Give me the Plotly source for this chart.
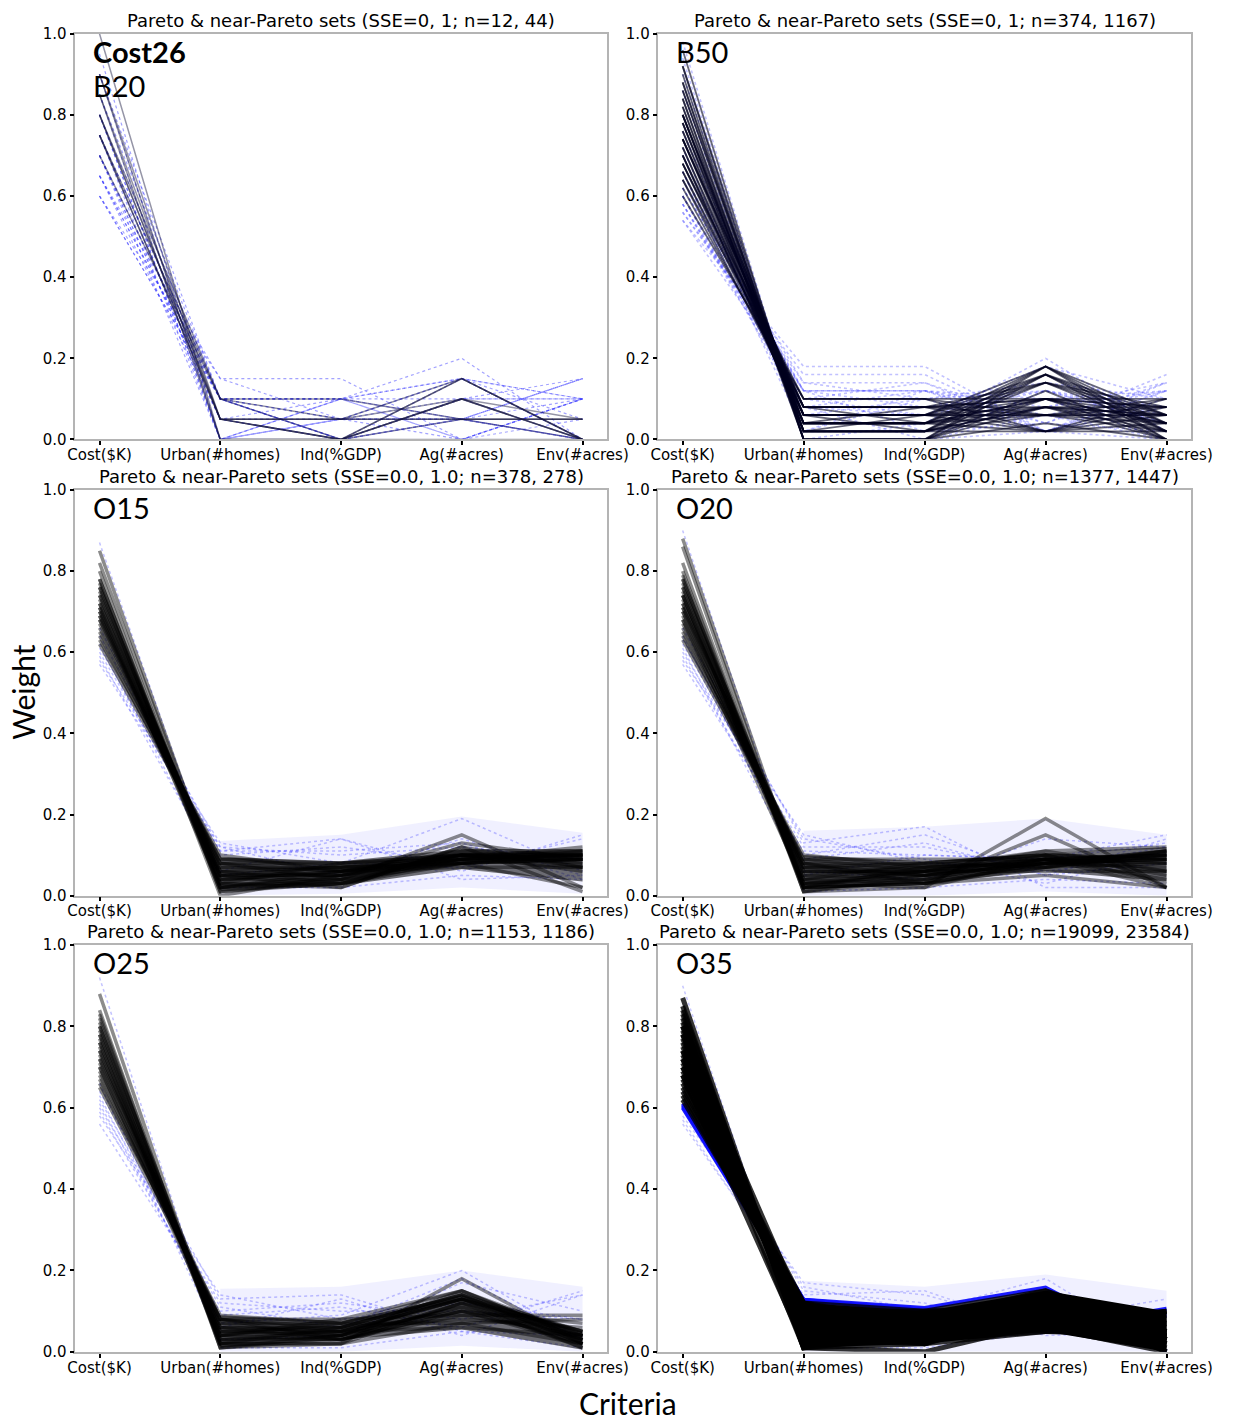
import plotly.graph_objects as go

# ---------------------------------------------------------------- data
criteria = ["Cost($K)", "Urban(#homes)", "Ind(%GDP)", "Ag(#acres)", "Env(#acres)"]

panel_titles = [
    "Pareto & near-Pareto sets (SSE=0, 1; n=12, 44)",
    "Pareto & near-Pareto sets (SSE=0, 1; n=374, 1167)",
    "Pareto & near-Pareto sets (SSE=0.0, 1.0; n=378, 278)",
    "Pareto & near-Pareto sets (SSE=0.0, 1.0; n=1377, 1447)",
    "Pareto & near-Pareto sets (SSE=0.0, 1.0; n=1153, 1186)",
    "Pareto & near-Pareto sets (SSE=0.0, 1.0; n=19099, 23584)",
]
panel_tags = ["B20", "B50", "O15", "O20", "O25", "O35"]
scenario_tag = "Cost26"

# weight vectors (Cost, Urban, Ind, Ag, Env)
b20_pareto = [
    [1.00, 0.00, 0.00, 0.00, 0.00],
    [0.90, 0.05, 0.00, 0.05, 0.00],
    [0.90, 0.00, 0.00, 0.10, 0.00],
    [0.85, 0.05, 0.00, 0.10, 0.00],
    [0.85, 0.00, 0.00, 0.15, 0.00],
    [0.80, 0.05, 0.05, 0.05, 0.05],
    [0.80, 0.05, 0.00, 0.15, 0.00],
    [0.75, 0.05, 0.05, 0.10, 0.05],
    [0.75, 0.10, 0.05, 0.05, 0.05],
    [0.80, 0.10, 0.00, 0.10, 0.00],
    [0.70, 0.10, 0.10, 0.05, 0.05],
    [0.75, 0.05, 0.05, 0.15, 0.00],
]
b20_near = [
    [0.60, 0.15, 0.15, 0.00, 0.10],
    [0.60, 0.10, 0.10, 0.05, 0.15],
    [0.65, 0.15, 0.05, 0.15, 0.00],
    [0.65, 0.10, 0.00, 0.10, 0.15],
    [0.65, 0.05, 0.10, 0.20, 0.00],
    [0.70, 0.10, 0.10, 0.10, 0.00],
    [0.70, 0.00, 0.10, 0.15, 0.05],
    [0.70, 0.05, 0.00, 0.15, 0.10],
    [0.70, 0.10, 0.00, 0.10, 0.10],
    [0.75, 0.10, 0.10, 0.00, 0.05],
    [0.75, 0.00, 0.05, 0.10, 0.10],
    [0.75, 0.10, 0.05, 0.00, 0.10],
    [0.80, 0.10, 0.00, 0.00, 0.10],
    [0.80, 0.00, 0.10, 0.00, 0.10],
    [0.80, 0.00, 0.05, 0.05, 0.10],
    [0.85, 0.10, 0.00, 0.05, 0.00],
    [0.85, 0.00, 0.10, 0.05, 0.00],
    [0.90, 0.00, 0.05, 0.05, 0.00],
    [0.90, 0.10, 0.00, 0.00, 0.00],
    [0.95, 0.00, 0.00, 0.05, 0.00],
    [0.65, 0.10, 0.10, 0.15, 0.00],
    [0.60, 0.10, 0.05, 0.15, 0.10],
    [0.70, 0.05, 0.05, 0.05, 0.15],
    [0.75, 0.05, 0.00, 0.05, 0.15],
]

b50_pareto = [
    [0.96, 0.00, 0.00, 0.04, 0.00], [0.92, 0.00, 0.00, 0.08, 0.00],
    [0.90, 0.00, 0.00, 0.10, 0.00], [0.88, 0.00, 0.00, 0.12, 0.00],
    [0.84, 0.00, 0.00, 0.16, 0.00], [0.82, 0.00, 0.00, 0.18, 0.00],
    [0.92, 0.02, 0.02, 0.02, 0.02], [0.88, 0.02, 0.02, 0.06, 0.02],
    [0.86, 0.02, 0.02, 0.08, 0.02], [0.84, 0.02, 0.02, 0.10, 0.02],
    [0.80, 0.02, 0.02, 0.14, 0.02], [0.78, 0.02, 0.02, 0.16, 0.02],
    [0.76, 0.02, 0.02, 0.18, 0.02],
    [0.86, 0.04, 0.04, 0.02, 0.04], [0.82, 0.04, 0.04, 0.06, 0.04],
    [0.80, 0.04, 0.04, 0.08, 0.04], [0.78, 0.04, 0.04, 0.10, 0.04],
    [0.74, 0.04, 0.04, 0.14, 0.04], [0.72, 0.04, 0.04, 0.16, 0.04],
    [0.70, 0.04, 0.04, 0.18, 0.04],
    [0.80, 0.06, 0.06, 0.02, 0.06], [0.76, 0.06, 0.06, 0.06, 0.06],
    [0.74, 0.06, 0.06, 0.08, 0.06], [0.72, 0.06, 0.06, 0.10, 0.06],
    [0.68, 0.06, 0.06, 0.14, 0.06], [0.66, 0.06, 0.06, 0.16, 0.06],
    [0.64, 0.06, 0.06, 0.18, 0.06],
    [0.74, 0.08, 0.08, 0.02, 0.08], [0.70, 0.08, 0.08, 0.06, 0.08],
    [0.68, 0.08, 0.08, 0.08, 0.08], [0.66, 0.08, 0.08, 0.10, 0.08],
    [0.62, 0.08, 0.08, 0.14, 0.08],
    [0.68, 0.10, 0.10, 0.02, 0.10], [0.64, 0.10, 0.10, 0.06, 0.10],
    [0.60, 0.10, 0.10, 0.10, 0.10],
    [0.80, 0.02, 0.06, 0.06, 0.06], [0.74, 0.08, 0.04, 0.10, 0.04],
    [0.78, 0.06, 0.02, 0.08, 0.06], [0.70, 0.04, 0.08, 0.10, 0.08],
]
b50_near = [
    [0.98, 0.00, 0.00, 0.02, 0.00], [0.94, 0.00, 0.00, 0.06, 0.00],
    [0.90, 0.02, 0.02, 0.04, 0.02], [0.62, 0.12, 0.12, 0.02, 0.12],
    [0.58, 0.12, 0.12, 0.06, 0.12], [0.54, 0.12, 0.12, 0.10, 0.12],
    [0.56, 0.14, 0.14, 0.02, 0.14], [0.56, 0.16, 0.16, 0.02, 0.10],
    [0.54, 0.18, 0.18, 0.02, 0.08], [0.70, 0.04, 0.04, 0.20, 0.02],
    [0.60, 0.06, 0.10, 0.14, 0.10], [0.64, 0.12, 0.02, 0.08, 0.14],
    [0.58, 0.10, 0.14, 0.04, 0.14], [0.62, 0.14, 0.10, 0.02, 0.12],
    [0.66, 0.02, 0.12, 0.08, 0.12], [0.60, 0.08, 0.12, 0.04, 0.16],
    [0.60, 0.12, 0.08, 0.12, 0.08], [0.66, 0.10, 0.06, 0.12, 0.06],
    [0.72, 0.02, 0.10, 0.12, 0.04], [0.58, 0.08, 0.06, 0.18, 0.10],
    [0.86, 0.00, 0.04, 0.10, 0.00], [0.76, 0.08, 0.00, 0.12, 0.04],
]

o15_pareto = [
    [0.80, 0.01, 0.03, 0.10, 0.06], [0.78, 0.02, 0.04, 0.09, 0.07],
    [0.77, 0.00, 0.05, 0.10, 0.08], [0.76, 0.03, 0.03, 0.11, 0.07],
    [0.75, 0.04, 0.04, 0.08, 0.09], [0.74, 0.02, 0.06, 0.09, 0.09],
    [0.73, 0.05, 0.05, 0.08, 0.09], [0.72, 0.04, 0.06, 0.10, 0.08],
    [0.72, 0.06, 0.03, 0.09, 0.10], [0.71, 0.05, 0.07, 0.08, 0.09],
    [0.70, 0.06, 0.05, 0.10, 0.09], [0.70, 0.03, 0.08, 0.09, 0.10],
    [0.69, 0.07, 0.06, 0.08, 0.10], [0.68, 0.06, 0.07, 0.09, 0.10],
    [0.68, 0.08, 0.04, 0.10, 0.10], [0.67, 0.07, 0.07, 0.10, 0.09],
    [0.66, 0.08, 0.06, 0.09, 0.11], [0.65, 0.09, 0.07, 0.08, 0.11],
    [0.64, 0.08, 0.08, 0.10, 0.10], [0.63, 0.10, 0.06, 0.11, 0.10],
    [0.62, 0.09, 0.08, 0.10, 0.11], [0.74, 0.05, 0.02, 0.12, 0.07],
    [0.71, 0.02, 0.05, 0.13, 0.09], [0.76, 0.04, 0.06, 0.07, 0.07],
    [0.69, 0.05, 0.05, 0.09, 0.12], [0.85, 0.02, 0.03, 0.08, 0.02],
    [0.82, 0.03, 0.02, 0.12, 0.01], [0.78, 0.01, 0.04, 0.15, 0.02],
]
o15_near = [
    [0.57, 0.12, 0.10, 0.12, 0.09], [0.60, 0.10, 0.12, 0.08, 0.10],
    [0.58, 0.13, 0.08, 0.07, 0.14], [0.62, 0.05, 0.08, 0.19, 0.06],
    [0.66, 0.11, 0.14, 0.04, 0.05], [0.87, 0.02, 0.02, 0.05, 0.04],
    [0.64, 0.12, 0.05, 0.14, 0.05], [0.59, 0.06, 0.14, 0.06, 0.15],
    [0.61, 0.11, 0.11, 0.13, 0.04],
]
o15_halo_lo = [0.55, 0.00, 0.005, 0.02, 0.005]
o15_halo_hi = [0.88, 0.135, 0.15, 0.195, 0.155]
o15_core_lo = [0.62, 0.01, 0.025, 0.065, 0.035]
o15_core_hi = [0.80, 0.095, 0.085, 0.115, 0.115]

o20_pareto = [
    [0.82, 0.01, 0.04, 0.09, 0.04], [0.80, 0.02, 0.03, 0.08, 0.07],
    [0.79, 0.01, 0.05, 0.10, 0.05], [0.78, 0.03, 0.04, 0.07, 0.08],
    [0.77, 0.02, 0.06, 0.09, 0.06], [0.76, 0.04, 0.03, 0.08, 0.09],
    [0.75, 0.03, 0.05, 0.08, 0.09], [0.74, 0.05, 0.04, 0.09, 0.08],
    [0.73, 0.04, 0.06, 0.07, 0.10], [0.72, 0.06, 0.05, 0.08, 0.09],
    [0.71, 0.05, 0.07, 0.09, 0.08], [0.70, 0.07, 0.05, 0.08, 0.10],
    [0.70, 0.04, 0.08, 0.07, 0.11], [0.69, 0.06, 0.06, 0.10, 0.09],
    [0.68, 0.08, 0.05, 0.09, 0.10], [0.67, 0.07, 0.07, 0.08, 0.11],
    [0.66, 0.09, 0.06, 0.09, 0.10], [0.65, 0.08, 0.08, 0.10, 0.09],
    [0.64, 0.10, 0.07, 0.08, 0.11], [0.63, 0.09, 0.09, 0.09, 0.10],
    [0.74, 0.02, 0.07, 0.11, 0.06], [0.71, 0.08, 0.03, 0.07, 0.11],
    [0.76, 0.06, 0.06, 0.06, 0.06], [0.68, 0.03, 0.06, 0.11, 0.12],
    [0.72, 0.07, 0.08, 0.10, 0.03], [0.86, 0.01, 0.02, 0.09, 0.02],
    [0.74, 0.03, 0.02, 0.19, 0.02], [0.78, 0.02, 0.03, 0.15, 0.02],
    [0.88, 0.02, 0.03, 0.05, 0.02],
]
o20_near = [
    [0.58, 0.15, 0.08, 0.07, 0.12], [0.60, 0.12, 0.12, 0.06, 0.10],
    [0.62, 0.10, 0.15, 0.05, 0.08], [0.57, 0.11, 0.10, 0.09, 0.13],
    [0.66, 0.13, 0.17, 0.02, 0.02], [0.61, 0.05, 0.10, 0.09, 0.15],
    [0.64, 0.06, 0.04, 0.14, 0.12], [0.90, 0.01, 0.02, 0.04, 0.03],
    [0.59, 0.09, 0.13, 0.05, 0.14], [0.63, 0.14, 0.09, 0.03, 0.11],
]
o20_halo_lo = [0.56, 0.00, 0.00, 0.01, 0.00]
o20_halo_hi = [0.90, 0.16, 0.17, 0.19, 0.15]
o20_core_lo = [0.63, 0.015, 0.03, 0.06, 0.035]
o20_core_hi = [0.82, 0.10, 0.085, 0.105, 0.12]

o25_pareto = [
    [0.84, 0.01, 0.03, 0.10, 0.02], [0.83, 0.02, 0.02, 0.12, 0.01],
    [0.82, 0.01, 0.04, 0.11, 0.02], [0.81, 0.03, 0.03, 0.09, 0.04],
    [0.80, 0.02, 0.04, 0.13, 0.01], [0.79, 0.03, 0.05, 0.10, 0.03],
    [0.78, 0.04, 0.03, 0.12, 0.03], [0.77, 0.03, 0.04, 0.14, 0.02],
    [0.76, 0.05, 0.04, 0.11, 0.04], [0.75, 0.04, 0.05, 0.13, 0.03],
    [0.74, 0.06, 0.03, 0.12, 0.05], [0.73, 0.05, 0.06, 0.14, 0.02],
    [0.72, 0.06, 0.05, 0.13, 0.04], [0.71, 0.07, 0.04, 0.15, 0.03],
    [0.70, 0.06, 0.06, 0.14, 0.04], [0.69, 0.08, 0.05, 0.13, 0.05],
    [0.68, 0.07, 0.07, 0.15, 0.03], [0.67, 0.08, 0.06, 0.14, 0.05],
    [0.66, 0.09, 0.07, 0.13, 0.05], [0.65, 0.08, 0.08, 0.15, 0.04],
    [0.78, 0.02, 0.06, 0.08, 0.06], [0.74, 0.04, 0.07, 0.07, 0.08],
    [0.80, 0.05, 0.05, 0.06, 0.04], [0.72, 0.08, 0.03, 0.10, 0.07],
    [0.70, 0.04, 0.08, 0.09, 0.09], [0.88, 0.01, 0.02, 0.07, 0.02],
    [0.76, 0.02, 0.02, 0.18, 0.02],
]
o25_near = [
    [0.60, 0.12, 0.10, 0.10, 0.08], [0.58, 0.14, 0.08, 0.12, 0.08],
    [0.56, 0.10, 0.12, 0.08, 0.14], [0.62, 0.11, 0.06, 0.18, 0.03],
    [0.64, 0.13, 0.14, 0.05, 0.04], [0.59, 0.09, 0.11, 0.06, 0.15],
    [0.61, 0.07, 0.09, 0.20, 0.03], [0.66, 0.03, 0.04, 0.17, 0.10],
    [0.92, 0.01, 0.01, 0.05, 0.01], [0.63, 0.06, 0.13, 0.04, 0.14],
]
o25_halo_lo = [0.54, 0.00, 0.00, 0.015, 0.00]
o25_halo_hi = [0.92, 0.155, 0.16, 0.20, 0.16]
o25_core_lo = [0.65, 0.01, 0.03, 0.055, 0.005]
o25_core_hi = [0.84, 0.09, 0.075, 0.14, 0.05]

o35_pareto = [
    [0.85, 0.01, 0.02, 0.11, 0.01], [0.84, 0.02, 0.03, 0.09, 0.02],
    [0.83, 0.03, 0.02, 0.12, 0.00], [0.82, 0.01, 0.04, 0.10, 0.03],
    [0.81, 0.04, 0.03, 0.08, 0.04], [0.80, 0.02, 0.05, 0.13, 0.00],
    [0.79, 0.05, 0.02, 0.10, 0.04], [0.78, 0.03, 0.06, 0.09, 0.04],
    [0.77, 0.06, 0.04, 0.11, 0.02], [0.76, 0.04, 0.05, 0.08, 0.07],
    [0.75, 0.07, 0.03, 0.12, 0.03], [0.74, 0.05, 0.07, 0.09, 0.05],
    [0.73, 0.08, 0.05, 0.10, 0.04], [0.72, 0.06, 0.06, 0.07, 0.09],
    [0.71, 0.09, 0.04, 0.13, 0.03], [0.70, 0.07, 0.08, 0.08, 0.07],
    [0.69, 0.10, 0.06, 0.11, 0.04], [0.68, 0.08, 0.07, 0.07, 0.10],
    [0.67, 0.11, 0.05, 0.14, 0.03], [0.66, 0.09, 0.09, 0.10, 0.06],
    [0.65, 0.12, 0.07, 0.08, 0.08], [0.64, 0.10, 0.10, 0.06, 0.10],
    [0.63, 0.11, 0.08, 0.15, 0.03], [0.62, 0.12, 0.10, 0.11, 0.05],
    [0.78, 0.10, 0.02, 0.05, 0.05], [0.74, 0.01, 0.09, 0.14, 0.02],
    [0.70, 0.12, 0.03, 0.05, 0.10], [0.80, 0.06, 0.08, 0.06, 0.00],
    [0.68, 0.02, 0.10, 0.15, 0.05], [0.72, 0.10, 0.09, 0.05, 0.04],
    [0.87, 0.01, 0.00, 0.07, 0.05],
]
o35_near = [
    [0.58, 0.17, 0.14, 0.06, 0.05], [0.56, 0.14, 0.15, 0.05, 0.10],
    [0.90, 0.01, 0.01, 0.05, 0.03], [0.57, 0.13, 0.09, 0.08, 0.13],
    [0.64, 0.15, 0.12, 0.04, 0.05], [0.62, 0.16, 0.10, 0.18, 0.00],
]
# near-Pareto weights along the upper rim of the dense band
o35_rim = [
    [0.605, 0.128, 0.108, 0.158, 0.001],
    [0.60, 0.125, 0.105, 0.08, 0.09],
    [0.61, 0.128, 0.10, 0.056, 0.106],
]
o35_halo_lo = [0.54, 0.00, 0.00, 0.00, 0.00]
o35_halo_hi = [0.92, 0.175, 0.16, 0.19, 0.15]
o35_core_lo = [0.62, 0.01, 0.02, 0.05, 0.00]
o35_core_hi = [0.85, 0.12, 0.10, 0.15, 0.10]

# ---------------------------------------------------------------- layout geometry
W, H = 1244, 1426
col_px = [(70, 614), (667, 1212)]
row_px = [(25, 436), (487, 898), (948, 1360)]


def xd(a, b):
    return [a / W, b / W]


def yd(top, bottom):
    return [1 - bottom / H, 1 - top / H]


positions = list(range(len(criteria)))
lower = positions[1:]   # Urban .. Env

panels = [
    dict(pareto=b20_pareto, near=b20_near, rim=[], halo=None, core=None,
         p_style=dict(color="rgba(20,20,60,0.45)", width=1.5),
         n_style=dict(color="rgba(50,50,255,0.45)", width=1.2, dash="dot"),
         core_fill=None),
    dict(pareto=b50_pareto, near=b50_near, rim=[], halo=None, core=None,
         p_style=dict(color="rgba(0,0,30,0.6)", width=1.8),
         n_style=dict(color="rgba(50,50,255,0.3)", width=1.6, dash="dot"),
         core_fill=None),
    dict(pareto=o15_pareto, near=o15_near, rim=[], halo=(o15_halo_lo, o15_halo_hi),
         core=(o15_core_lo, o15_core_hi),
         p_style=dict(color="rgba(0,0,0,0.45)", width=3.5),
         n_style=dict(color="rgba(40,40,255,0.28)", width=1.5, dash="dot"),
         core_fill="rgba(0,0,0,0.55)"),
    dict(pareto=o20_pareto, near=o20_near, rim=[], halo=(o20_halo_lo, o20_halo_hi),
         core=(o20_core_lo, o20_core_hi),
         p_style=dict(color="rgba(0,0,0,0.45)", width=3.5),
         n_style=dict(color="rgba(40,40,255,0.28)", width=1.5, dash="dot"),
         core_fill="rgba(0,0,0,0.55)"),
    dict(pareto=o25_pareto, near=o25_near, rim=[], halo=(o25_halo_lo, o25_halo_hi),
         core=(o25_core_lo, o25_core_hi),
         p_style=dict(color="rgba(0,0,0,0.45)", width=3.5),
         n_style=dict(color="rgba(40,40,255,0.28)", width=1.5, dash="dot"),
         core_fill="rgba(0,0,0,0.55)"),
    dict(pareto=o35_pareto, near=o35_near, rim=o35_rim, halo=(o35_halo_lo, o35_halo_hi),
         core=(o35_core_lo, o35_core_hi),
         p_style=dict(color="rgba(0,0,0,0.8)", width=5.0),
         n_style=dict(color="rgba(40,40,255,0.25)", width=1.5, dash="dot"),
         core_fill="rgba(0,0,0,1.0)"),
]

fig = go.Figure()
layout = dict(
    width=W, height=H, margin=dict(l=0, r=0, t=0, b=0),
    paper_bgcolor="white", plot_bgcolor="white", showlegend=False,
    font=dict(family="DejaVu Sans", size=15, color="black"),
)
annotations = []

for k, p in enumerate(panels):
    r, c = divmod(k, 2)
    n = k + 1
    xa, ya = f"x{n}", f"y{n}"
    (x0, x1), (y0, y1) = col_px[c], row_px[r]

    axis_common = dict(showline=True, linecolor="#b4b4b4", linewidth=1.5, mirror=True,
                       ticks="outside", ticklen=4, tickwidth=2, tickcolor="black",
                       showgrid=False, zeroline=False,
                       tickfont=dict(family="DejaVu Sans", size=15, color="black"))
    layout[f"xaxis{n}"] = dict(axis_common, domain=xd(x0, x1), anchor=ya,
                               range=[-0.2, 4.2], tickvals=positions, ticktext=criteria,
                               ticklabelstandoff=-3)
    layout[f"yaxis{n}"] = dict(axis_common, domain=yd(y0, y1), anchor=xa,
                               range=[0, 1.0], tickvals=[0, 0.2, 0.4, 0.6, 0.8, 1.0],
                               tickformat=".1f")

    # faint envelope of the near-Pareto cloud over the low-weight criteria
    if p["halo"] is not None:
        lo, hi = p["halo"]
        fig.add_trace(go.Scatter(
            x=lower + lower[::-1], y=list(hi[1:]) + list(lo[1:])[::-1],
            xaxis=xa, yaxis=ya, mode="lines", fill="toself",
            fillcolor="rgba(90,90,255,0.09)", line=dict(width=0),
            hoverinfo="skip"))

    for w in p["near"]:
        fig.add_trace(go.Scatter(x=positions, y=w, xaxis=xa, yaxis=ya, mode="lines",
                                 line=p["n_style"], hoverinfo="skip"))

    # bright near-Pareto rim, partly hidden under the Pareto band
    for w in p["rim"]:
        fig.add_trace(go.Scatter(x=positions, y=w, xaxis=xa, yaxis=ya, mode="lines",
                                 line=dict(color="rgba(15,15,255,0.95)", width=4),
                                 hoverinfo="skip"))

    # dense core of the Pareto set
    if p["core"] is not None:
        lo, hi = p["core"]
        fig.add_trace(go.Scatter(
            x=lower + lower[::-1], y=list(hi[1:]) + list(lo[1:])[::-1],
            xaxis=xa, yaxis=ya, mode="lines", fill="toself",
            fillcolor=p["core_fill"], line=dict(width=0),
            hoverinfo="skip"))

    for w in p["pareto"]:
        fig.add_trace(go.Scatter(x=positions, y=w, xaxis=xa, yaxis=ya, mode="lines",
                                 line=p["p_style"], hoverinfo="skip"))

    # panel heading
    annotations.append(dict(
        text=panel_titles[k], xref="paper", yref="paper",
        x=(x0 + x1) / 2 / W, y=1 - (y0 - 1) / H, xanchor="center", yanchor="bottom",
        showarrow=False, font=dict(family="DejaVu Sans", size=18, color="black")))

    # scenario tag in the top-left corner
    tag_y = y0 + (52 if k == 0 else 18)
    annotations.append(dict(
        text=panel_tags[k], xref="paper", yref="paper",
        x=(x0 + 16) / W, y=1 - tag_y / H, xanchor="left", yanchor="middle",
        showarrow=False, font=dict(family="Lato", size=29, color="black")))

annotations.append(dict(
    text=f"<b>{scenario_tag}</b>", xref="paper", yref="paper",
    x=(col_px[0][0] + 16) / W, y=1 - (row_px[0][0] + 18) / H,
    xanchor="left", yanchor="middle", showarrow=False,
    font=dict(family="Lato", size=29, color="black")))

annotations.append(dict(
    text="Weight", xref="paper", yref="paper", x=17 / W, y=1 - 692 / H,
    xanchor="center", yanchor="middle", textangle=-90, showarrow=False,
    font=dict(family="Lato", size=30, color="black")))
annotations.append(dict(
    text="Criteria", xref="paper", yref="paper", x=636 / W, y=1 - 1412 / H,
    xanchor="center", yanchor="middle", showarrow=False,
    font=dict(family="Lato", size=30, color="black")))

layout["annotations"] = annotations
fig.update_layout(**layout)
fig.write_html("out.html", post_script="document.body.style.margin = '0';")
